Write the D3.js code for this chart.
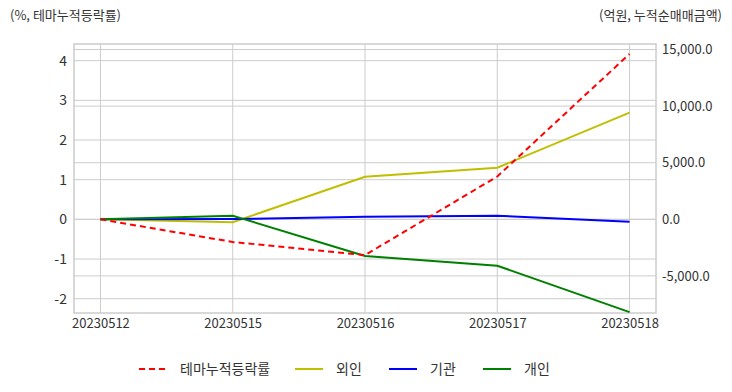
<!DOCTYPE html>
<html>
<head>
<meta charset="utf-8">
<script src="https://cdn.jsdelivr.net/npm/d3@7"></script>
<style>
  body { margin: 0; background: #fff; }
  text { font-family: "Noto Sans CJK KR", "Noto Sans", sans-serif; fill: #333; }
</style>
</head>
<body>
<div id="chart"></div>
<script>
// data
const dates = ["20230512", "20230515", "20230516", "20230517", "20230518"];
const themeRate = [0, -0.57, -0.9, 1.08, 4.17];       // %, left axis
const foreign = [0, -260, 3760, 4560, 9420];           // 억원, right axis
const institution = [0, 20, 230, 320, -210];
const individual = [0, 320, -3250, -4100, -8200];
const leftTicks = [-2, -1, 0, 1, 2, 3, 4];
const rightTicks = [-5000, 0, 5000, 10000, 15000];

const W = 732, H = 392;
const M = { left: 74, right: 76, top: 44, bottom: 79 };

// plain hyphen for negatives, like the original
const hyphen = f => d => f(d).replace("\u2212", "-");

const svg = d3.select("#chart").append("svg")
  .attr("width", W).attr("height", H);

const x = d3.scalePoint()
  .domain(dates)
  .range([M.left, W - M.right])
  .padding(0.2);

const yL = d3.scaleLinear().domain([-2.36, 4.42]).range([H - M.bottom, M.top]);
const yR = d3.scaleLinear().domain([-8280, 15490]).range([H - M.bottom, M.top]);

const grid = svg.append("g").attr("stroke", "#cccccc").attr("stroke-width", 1);

// vertical grid
grid.selectAll("line.vx").data(dates).enter().append("line")
  .attr("x1", d => x(d)).attr("x2", d => x(d))
  .attr("y1", M.top).attr("y2", H - M.bottom);

// horizontal grid, both axes
grid.selectAll("line.hl").data(leftTicks).enter().append("line")
  .attr("x1", M.left).attr("x2", W - M.right)
  .attr("y1", d => yL(d)).attr("y2", d => yL(d));
grid.selectAll("line.hr").data(rightTicks).enter().append("line")
  .attr("x1", M.left).attr("x2", W - M.right)
  .attr("y1", d => yR(d)).attr("y2", d => yR(d));

// frame
svg.append("rect")
  .attr("x", M.left).attr("y", M.top)
  .attr("width", W - M.left - M.right).attr("height", H - M.top - M.bottom)
  .attr("fill", "none").attr("stroke", "#cccccc").attr("stroke-width", 1.5);

// axes
const axL = svg.append("g").attr("transform", `translate(${M.left},0)`)
  .call(d3.axisLeft(yL).tickValues(leftTicks).tickSize(0).tickPadding(7).tickFormat(hyphen(d3.format("d"))));
const axR = svg.append("g").attr("transform", `translate(${W - M.right},0)`)
  .call(d3.axisRight(yR).tickValues(rightTicks).tickSize(0).tickPadding(6).tickFormat(hyphen(d3.format(",.1f"))));
const axX = svg.append("g").attr("transform", `translate(0,${H - M.bottom})`)
  .call(d3.axisBottom(x).tickSize(0).tickPadding(6));
[axL, axR, axX].forEach(a => {
  a.select(".domain").remove();
  a.selectAll("text").attr("font-size", 13).attr("fill", "#333")
    .style("font-family", '"Noto Sans CJK KR", sans-serif');
});
axL.selectAll("text").attr("font-size", 14);

// lines
const lineL = d3.line().x((d, i) => x(dates[i])).y(d => yL(d));
const lineR = d3.line().x((d, i) => x(dates[i])).y(d => yR(d));

const series = [
  { name: "테마누적등락률", values: themeRate, line: lineL, color: "#ff0000", dash: "6,4" },
  { name: "외인", values: foreign, line: lineR, color: "#bfbf00", dash: null },
  { name: "기관", values: institution, line: lineR, color: "#0000ff", dash: null },
  { name: "개인", values: individual, line: lineR, color: "#008000", dash: null }
];

const plot = svg.append("g");
[series[1], series[2], series[3], series[0]].forEach(s => {
  plot.append("path")
    .attr("d", s.line(s.values))
    .attr("fill", "none")
    .attr("stroke", s.color)
    .attr("stroke-width", 2)
    .attr("stroke-dasharray", s.dash);
});

// axis titles
svg.append("text").attr("x", 10).attr("y", 20).attr("font-size", 13)
  .text("(%, 테마누적등락률)");
svg.append("text").attr("x", 722).attr("y", 20).attr("font-size", 13)
  .attr("text-anchor", "end").text("(억원, 누적순매매금액)");

// legend
const legendX = [139, 295, 389, 483];
const legend = svg.append("g").attr("transform", "translate(0,369)");
series.forEach((s, i) => {
  legend.append("line")
    .attr("x1", legendX[i]).attr("x2", legendX[i] + 28)
    .attr("stroke", s.color).attr("stroke-width", 2)
    .attr("stroke-dasharray", s.dash);
  legend.append("text")
    .attr("x", legendX[i] + 41).attr("y", 5)
    .attr("font-size", 14)
    .text(s.name);
});
</script>
</body>
</html>
